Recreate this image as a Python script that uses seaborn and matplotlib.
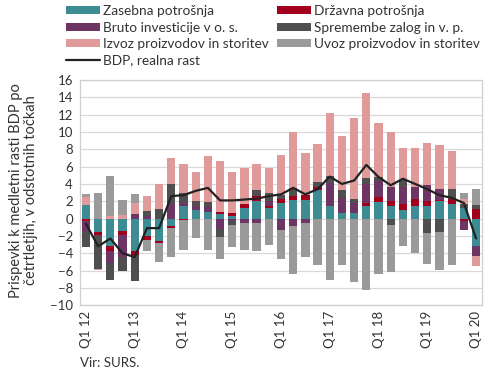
import numpy as np
import pandas as pd
import matplotlib
matplotlib.use("Agg")
import matplotlib.pyplot as plt
import seaborn as sns


# the data (quarters Q1 12 .. Q1 20)
quarters = [f"Q{q} {y}" for y in range(12, 21) for q in range(1, 5)][:33]

zasebna  = [1.6, -1.5, -3.2, -1.4, -3.7, -2.05, -2.55, -0.8, 1.5, 0.95, 0.8,
            0.55, 0.25, 1.25, 2.0, 1.25, 1.8, 2.15, 2.15, 3.35, 1.5, 0.65,
            0.6, 1.5, 1.95, 1.45, 1.0, 1.5, 1.43, 2.0, 1.63, 1.2, -3.2]
drzavna  = [-0.3, -0.45, -0.6, -0.55, -0.5, -0.45, -0.3, -0.25, -0.2, 0.0, 0.0,
            0.2, 0.45, 0.4, 0.6, 0.2, 0.5, 0.45, 0.55, 0.3, 0.0, 0.0,
            0.0, 0.3, 0.55, 0.6, 0.65, 0.8, 0.58, 0.2, 0.58, -0.3, 1.1]
investicije = [-1.3, -0.1, -1.3, -2.5, 0.55, 0.35, 0.0, 1.7, 0.25, 0.5, 0.55,
               -1.15, -0.3, -0.5, -0.5, 0.6, -1.3, -0.8, -0.5, 0.0, 2.65, 1.75,
               1.25, 2.25, 1.85, 1.65, 2.05, 1.4, 1.82, 1.2, 0.0, -1.0, -1.15]
zaloge   = [-1.7, -3.8, -2.0, -1.6, -3.05, 0.5, 1.05, 2.35, 1.15, 0.6, 0.6,
            -1.0, -0.45, 0.0, 0.7, 0.9, 0.45, 0.95, 0.0, 0.55, 0.8, 0.85,
            0.45, 0.6, 0.5, -0.7, 0.8, 0.0, -1.67, -1.5, 1.24, 0.45, 0.5]
izvoz    = [0.9, -0.12, 0.25, 0.4, 1.2, 1.8, 2.9, 3.0, 3.35, 3.3, 5.3,
            5.9, 4.7, 4.15, 3.0, 2.85, 4.65, 6.5, 4.9, 4.45, 7.2, 6.25,
            9.3, 9.9, 6.2, 6.35, 3.65, 4.4, 4.9, 5.15, 4.4, 0.65, -1.15]
uvoz     = [0.35, 3.0, 4.65, 1.7, 1.1, -1.2, -2.2, -3.4, -3.4, -2.2, -3.6,
            -2.5, -2.55, -3.1, -3.25, -3.0, -3.35, -5.65, -3.9, -5.4, -7.1, -5.35,
            -7.3, -8.3, -6.4, -5.5, -3.2, -4.0, -3.6, -4.4, -5.35, 0.6, 1.86]
bdp      = [-0.6, -3.2, -2.3, -4.0, -4.45, -1.1, -1.1, 2.6, 2.7, 3.2, 3.55,
            2.1, 2.1, 2.2, 2.3, 2.6, 2.8, 3.55, 2.8, 3.4, 4.85, 4.0,
            4.4, 6.2, 4.8, 3.85, 4.6, 4.0, 3.4, 2.7, 2.4, 1.8, -2.3]

series = ["Zasebna potrošnja", "Državna potrošnja", "Bruto investicije v o. s.",
          "Spremembe zalog in v. p.", "Izvoz proizvodov in storitev",
          "Uvoz proizvodov in storitev"]
colors = ["#3d8c94", "#a3001e", "#6d3563", "#4f4f4f", "#e09a9a", "#9a9a9a"]

df = pd.DataFrame({
    "quarter": quarters,
    series[0]: zasebna,
    series[1]: drzavna,
    series[2]: investicije,
    series[3]: zaloge,
    series[4]: izvoz,
    series[5]: uvoz,
    "BDP": bdp,
})


# =============================================================
# PLOT
# =============================================================

sns.set_theme(style="white")
plt.rcParams["font.family"] = ["Lato", "DejaVu Sans"]
txt = "#333333"

fig = plt.figure(figsize=(4.9, 3.74), dpi=100)
ax = fig.add_axes([0.163, 0.184, 0.821, 0.602])

x = np.arange(len(df))
pos = np.zeros(len(df))
neg = np.zeros(len(df))

# stacked like excel: positives up from 0, negatives down from 0
for name, color in zip(series, colors):
    vals = df[name].values
    bottom = np.where(vals >= 0, pos, neg)
    ax.bar(x, vals, bottom=bottom, width=0.68, color=color, label=name,
           linewidth=0, zorder=2)
    pos = pos + np.clip(vals, 0, None)
    neg = neg + np.clip(vals, None, 0)

sns.lineplot(x=x, y=df["BDP"], ax=ax, color="#222222", linewidth=1.6,
             label="BDP, realna rast", zorder=3)

ax.set_xlim(-0.5, len(df) - 0.5)
ax.set_ylim(-10, 16)
ax.set_yticks(range(-10, 17, 2))
ax.set_xticks(x[::4])
ax.set_xticklabels([df["quarter"][i] for i in x[::4]],
                   rotation=90, fontsize=9.5, color=txt)
ax.tick_params(axis="y", labelsize=9.5, colors=txt, length=0, pad=5)
ax.tick_params(axis="x", length=0, pad=4)
ax.grid(axis="y", color="#d9d9d9", linewidth=0.9, zorder=0)
for s in ax.spines.values():
    s.set_color("#cfcfcf")
    s.set_linewidth(0.9)
ax.set_xlabel("")
ax.set_ylabel("Prispevki k medletni rasti BDP po\nčetrtletjih, v odstotnih točkah",
              fontsize=10.5, color=txt, linespacing=1.05)
ax.yaxis.set_label_coords(-0.104, 0.51)

# legend on top, filled row by row like the original
handles, labels = ax.get_legend_handles_labels()
order = [1, 3, 5, 0, 2, 4, 6]
ax.get_legend().remove()
leg = fig.legend([handles[i] for i in order], [labels[i] for i in order],
                 loc="upper left", bbox_to_anchor=(0.118, 1.008), ncol=2,
                 frameon=False, fontsize=9.8, handlelength=2.5, handleheight=0.5,
                 labelspacing=0.33, columnspacing=0.55, handletextpad=0.25,
                 borderaxespad=0.2)
for t in leg.get_texts():
    t.set_color(txt)

fig.text(0.163, 0.018, "Vir: SURS.", fontsize=9.5, color=txt)

fig.savefig("out.png", dpi=100)
